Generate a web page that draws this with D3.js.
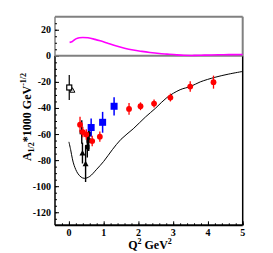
<!DOCTYPE html>
<html><head><meta charset="utf-8">
<script src="https://cdn.jsdelivr.net/npm/d3@7"></script>
<style>body{margin:0;background:#fff}svg{display:block}</style>
</head><body>
<script>
const W = 273, H = 253;
const xTicks = [0, 1, 2, 3, 4, 5];
const yTicks = [20, 0, -20, -40, -60, -80, -100, -120];

// black model curve
const modelQ2 = [0.0, 0.05, 0.1, 0.15, 0.25, 0.35, 0.45, 0.6, 0.8, 1.0, 1.25, 1.5, 1.85, 2.2, 2.5, 2.82, 3.2, 3.5, 3.78, 4.2, 4.6, 5.0];
const modelA  = [-66, -72, -79, -84, -90, -93, -94, -92.5, -87, -81, -72, -64, -56, -47, -40, -32, -26, -23.5, -20, -16.5, -14, -12];
// magenta curve
const magQ2 = [0.02, 0.1, 0.2, 0.3, 0.4, 0.55, 0.75, 0.9, 1.1, 1.37, 1.6, 1.85, 2.1, 2.33, 2.6, 2.82, 3.1, 3.3, 3.6, 3.9, 4.3, 4.6, 5.0];
const magA  = [10.3, 11, 13, 13.9, 14.1, 13.8, 12.6, 11.5, 9.8, 7.5, 5.8, 4.4, 3.4, 2.6, 1.8, 1.3, 0.7, 0.4, 0.3, 0.5, 0.8, 0.9, 1.0];
// red circles
const redQ2  = [0.32, 0.40, 0.50, 0.67, 0.89, 1.73, 2.06, 2.45, 2.92, 3.49, 4.16];
const redA   = [-52.8, -58.5, -60.3, -65.4, -62, -40.7, -38.7, -36.6, -32, -23.6, -20.2];
const redErr = [6, 4, 4, 4, 4, 4.5, 3, 3, 3, 4, 5];
// blue squares
const blueQ2  = [0.64, 0.97, 1.30];
const blueA   = [-55, -51, -38.7];
const blueErr = [7, 8, 7];
// black filled points
const blkQ2  = [0.37, 0.39, 0.48, 0.53, 0.57, 0.58];
const blkA   = [-58.5, -74.6, -82.8, -70, -65, -60];
const blkErr = [9, 8, 14, 8, 8, 5];
const blkShape = ["sq", "tri", "tri", "sq", "sq", "sq"];
// open symbols at photon point
const openQ2 = [0.01];
const openA = [-24.3];
const openErr = [9.5];
const openTriQ2 = [0.1];
const openTriA = [-26.4];

const m = {l: 55, r: 30.3, t: 16.7, b: 27.7};
const x = d3.scaleLinear().domain([-0.4, 5]).range([m.l, W - m.r]);
const y = d3.scaleLinear().domain([-130, 30]).range([H - m.b, m.t]);

const svg = d3.select("body").append("svg").attr("width", W).attr("height", H);
const font = "'Liberation Serif','DejaVu Serif',serif";

// frames
const gray = "#808080";
svg.append("line").attr("x1", x(-0.4)).attr("x2", x(5)).attr("y1", y(30)).attr("y2", y(30)).attr("stroke", gray).attr("stroke-width", 2);
svg.append("line").attr("x1", x(5)).attr("x2", x(5)).attr("y1", y(30)).attr("y2", y(0)).attr("stroke", gray).attr("stroke-width", 2);
svg.append("line").attr("x1", x(-0.4)).attr("x2", x(-0.4)).attr("y1", y(30)).attr("y2", y(0)).attr("stroke", gray).attr("stroke-width", 1.5);
svg.append("line").attr("x1", x(5)).attr("x2", x(5)).attr("y1", y(0)).attr("y2", y(-130)).attr("stroke", "#000").attr("stroke-width", 1.5);
svg.append("line").attr("x1", x(-0.4)).attr("x2", x(-0.4)).attr("y1", y(0)).attr("y2", y(-130)).attr("stroke", "#000").attr("stroke-width", 1.5);

// axes ticks
const gx = svg.append("g").attr("transform", `translate(0,${y(-130)})`)
  .call(d3.axisTop(x).tickValues(d3.range(-0.2, 5.01, 0.2).map(v => +v.toFixed(1))).tickSize(2).tickFormat(""));
gx.select(".domain").remove();
const gx2 = svg.append("g").attr("transform", `translate(0,${y(-130)})`)
  .call(d3.axisTop(x).tickValues(xTicks).tickSize(4).tickFormat(""));
gx2.select(".domain").remove();
svg.append("line").attr("x1", x(-0.4)).attr("x2", x(5)).attr("y1", y(-130)).attr("y2", y(-130)).attr("stroke", "#000").attr("stroke-width", 2);
svg.append("g").selectAll("text").data(xTicks).join("text")
  .attr("x", d => x(d)).attr("y", y(-130) + 10.5).attr("text-anchor", "middle")
  .attr("font-family", font).attr("font-weight", "bold").attr("font-size", 10).text(d => d);

const gy = svg.append("g").attr("transform", `translate(${x(-0.4)},0)`)
  .call(d3.axisRight(y).tickValues(d3.range(-125, 30, 5)).tickSize(2).tickFormat(""));
gy.select(".domain").remove();
const gy2 = svg.append("g").attr("transform", `translate(${x(-0.4)},0)`)
  .call(d3.axisRight(y).tickValues(yTicks).tickSize(4).tickFormat(""));
gy2.select(".domain").remove();
svg.append("g").selectAll("text").data(yTicks).join("text")
  .attr("x", x(-0.4) - 4).attr("y", d => y(d) + 3.5).attr("text-anchor", "end")
  .attr("font-family", font).attr("font-weight", "bold").attr("font-size", 10).text(d => d);

// zero line
svg.append("line").attr("x1", x(-0.4)).attr("x2", x(5)).attr("y1", y(0)).attr("y2", y(0)).attr("stroke", gray).attr("stroke-width", 2);

// curves
const line = d3.line().x(d => x(d[0])).y(d => y(d[1])).curve(d3.curveCatmullRom);
svg.append("path").attr("d", line(magQ2.map((q, i) => [q, magA[i]]))).attr("fill", "none").attr("stroke", "#ff00ff").attr("stroke-width", 1.6);
svg.append("path").attr("d", line(modelQ2.map((q, i) => [q, modelA[i]]))).attr("fill", "none").attr("stroke", "#000").attr("stroke-width", 1);

// error bars helper
function errbars(qs, as, es, color, w) {
  svg.append("g").selectAll("line").data(qs).join("line")
    .attr("x1", d => x(d)).attr("x2", d => x(d))
    .attr("y1", (d, i) => y(as[i] + es[i])).attr("y2", (d, i) => y(as[i] - es[i]))
    .attr("stroke", color).attr("stroke-width", w);
}

// black open
errbars(openQ2, openA, openErr, "#000", 1.2);
svg.append("g").selectAll("rect").data(openQ2).join("rect")
  .attr("x", d => x(d) - 2.5).attr("y", (d, i) => y(openA[i]) - 2.5).attr("width", 5).attr("height", 5)
  .attr("fill", "#fff").attr("stroke", "#000").attr("stroke-width", 1.2);
svg.append("g").selectAll("path").data(openTriQ2).join("path")
  .attr("d", (d, i) => `M${x(d)},${y(openTriA[i]) - 2.5}l2.5,4.5h-5z`)
  .attr("fill", "none").attr("stroke", "#000").attr("stroke-width", 1);

// black filled
errbars(blkQ2, blkA, blkErr, "#000", 1.4);
svg.append("g").selectAll("path").data(blkQ2).join("path")
  .attr("d", (d, i) => {
    const cx = x(d), cy = y(blkA[i]);
    return blkShape[i] === "tri" ? `M${cx},${cy - 3}l3,5.5h-6z` : `M${cx - 2.2},${cy - 2.2}h4.4v4.4h-4.4z`;
  }).attr("fill", "#000");

// blue squares
errbars(blueQ2, blueA, blueErr, "#0000ff", 1.5);
svg.append("g").selectAll("rect").data(blueQ2).join("rect")
  .attr("x", d => x(d) - 3.5).attr("y", (d, i) => y(blueA[i]) - 3.5).attr("width", 7).attr("height", 7)
  .attr("fill", "#0000ff");

// red circles
errbars(redQ2, redA, redErr, "#ff0000", 1.3);
svg.append("g").selectAll("circle").data(redQ2).join("circle")
  .attr("cx", d => x(d)).attr("cy", (d, i) => y(redA[i])).attr("r", 2.9).attr("fill", "#ff0000");

// axis titles
const xt = svg.append("text").attr("x", 150).attr("y", 249).attr("text-anchor", "middle")
  .attr("font-family", font).attr("font-weight", "bold").attr("font-size", 12);
xt.append("tspan").text("Q");
xt.append("tspan").attr("font-size", 8).attr("dy", -5).text("2");
xt.append("tspan").attr("dy", 5).text(" GeV");
xt.append("tspan").attr("font-size", 8).attr("dy", -5).text("2");

const yt = svg.append("text").attr("transform", `translate(31,117) rotate(-90)`).attr("text-anchor", "middle")
  .attr("font-family", font).attr("font-weight", "bold").attr("font-size", 12);
yt.append("tspan").text("A");
yt.append("tspan").attr("font-size", 8).attr("dy", 3).text("1/2");
yt.append("tspan").attr("dy", -3).text("*1000 GeV");
yt.append("tspan").attr("font-size", 8).attr("dy", -5).text("-1/2");
</script>
</body></html>
